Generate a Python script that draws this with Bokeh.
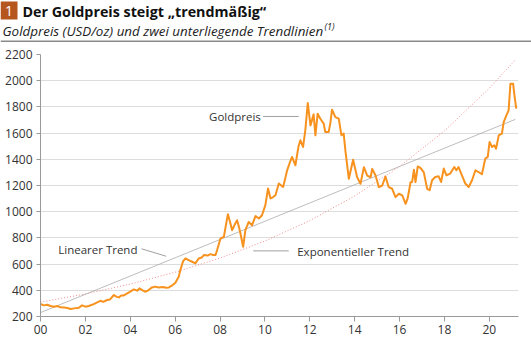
from bokeh.plotting import figure
from bokeh.layouts import column
from bokeh.models import Range1d, FixedTicker, Label, ColumnDataSource
from bokeh.core.properties import value
from bokeh.embed import file_html
from bokeh.resources import INLINE

# ---------------- data (years since 2000, USD/oz) ----------------
gold_year = [0.00, 0.15, 0.30, 0.45, 0.60, 0.75, 0.89, 1.05, 1.20, 1.34, 1.50, 1.71, 1.85, 2.00, 2.15,
             2.37, 2.55, 2.67, 2.80, 2.97, 3.10, 3.27, 3.40, 3.49, 3.60, 3.71, 3.85, 4.00, 4.16, 4.31,
             4.41, 4.55, 4.68, 4.80, 4.97, 5.10, 5.27, 5.45, 5.60, 5.72, 5.85, 6.01, 6.16, 6.24, 6.35,
             6.46, 6.60, 6.76, 6.90, 7.05, 7.18, 7.28, 7.45, 7.57, 7.70, 7.80, 7.87, 8.02, 8.17, 8.35,
             8.45, 8.54, 8.65, 8.76, 8.85, 8.91, 9.03, 9.13, 9.28, 9.43, 9.58, 9.73, 9.87, 10.02, 10.14,
             10.25, 10.35, 10.47, 10.62, 10.81, 10.90, 10.99, 11.10, 11.21, 11.36, 11.43, 11.50, 11.58,
             11.70, 11.80, 11.91, 12.03, 12.17, 12.25, 12.35, 12.47, 12.62, 12.69, 12.84, 12.92, 12.99,
             13.14, 13.29, 13.41, 13.51, 13.59, 13.74, 13.93, 14.11, 14.26, 14.41, 14.56, 14.71, 14.78,
             14.93, 15.08, 15.23, 15.37, 15.52, 15.67, 15.82, 15.97, 16.12, 16.27, 16.36, 16.49, 16.56,
             16.64, 16.71, 16.81, 16.93, 17.08, 17.23, 17.34, 17.45, 17.59, 17.74, 17.85, 17.97, 18.09,
             18.26, 18.44, 18.53, 18.63, 18.78, 18.93, 19.08, 19.23, 19.38, 19.52, 19.67, 19.82, 19.93,
             20.01, 20.12, 20.22, 20.30, 20.42, 20.56, 20.64, 20.76, 20.86, 20.94, 21.06, 21.11, 21.20]
gold_price = [295, 285, 290, 280, 275, 280, 270, 268, 265, 257, 262, 267, 285, 275, 280,
              295, 310, 320, 312, 326, 330, 364, 350, 346, 360, 361, 375, 390, 407, 397,
              415, 400, 389, 400, 422, 428, 422, 425, 420, 422, 435, 458, 503, 560, 620,
              643, 630, 618, 606, 643, 650, 669, 665, 676, 670, 669, 707, 796, 808, 981,
              920, 859, 900, 935, 880, 834, 732, 859, 922, 897, 966, 948, 973, 1050, 1177,
              1101, 1110, 1126, 1215, 1189, 1250, 1316, 1370, 1418, 1354, 1430, 1500, 1545,
              1494, 1621, 1829, 1659, 1743, 1583, 1748, 1710, 1672, 1608, 1608, 1680, 1779,
              1722, 1710, 1583, 1596, 1460, 1251, 1396, 1263, 1213, 1340, 1276, 1263, 1327,
              1276, 1187, 1200, 1269, 1187, 1175, 1111, 1137, 1124, 1060, 1101, 1225, 1227,
              1320, 1225, 1345, 1335, 1300, 1175, 1164, 1240, 1265, 1270, 1227, 1329, 1278,
              1291, 1341, 1316, 1341, 1278, 1215, 1189, 1240, 1316, 1303, 1286, 1405, 1418,
              1532, 1494, 1507, 1481, 1583, 1596, 1684, 1735, 1773, 1977, 1977, 1901, 1787]

linear_year = [0.0, 21.16]
linear_trend = [230, 1705]

exp_year = [0, 2, 4, 6, 8, 10, 12, 14, 16, 18, 20, 21.16]
exp_trend = [310, 372, 447, 538, 646, 776, 932, 1120, 1345, 1617, 1942, 2160]

x_ticks = [0, 2, 4, 6, 8, 10, 12, 14, 16, 18, 20]
x_tick_labels = ["00", "02", "04", "06", "08", "10", "12", "14", "16", "18", "20"]
y_ticks = [200, 400, 600, 800, 1000, 1200, 1400, 1600, 1800, 2000, 2200]

title_text = "Der Goldpreis steigt \u201etrendm\u00e4\u00dfig\u201c"
subtitle_text = "Goldpreis (USD/oz) und zwei unterliegende Trendlinien"

FONT = "Open Sans"
ORANGE = "#f7921e"

W, H = 531, 339
HEAD_H = 44

# ---------------- header figure (pixel coordinates, y downwards) ----------------
h = figure(width=W, height=HEAD_H, output_backend="svg", toolbar_location=None,
           x_range=Range1d(0, W), y_range=Range1d(HEAD_H, 0),
           x_axis_type=None, y_axis_type=None,
           min_border=0, min_border_left=0, min_border_right=0,
           min_border_top=0, min_border_bottom=0)
h.outline_line_color = None
h.grid.visible = False
h.background_fill_color = "white"
h.border_fill_color = "white"

h.quad(left=[0], right=[17], top=[1], bottom=[19], fill_color="#b6561f", line_color=None)
h.text(x=[8.5], y=[10.5], text=["1"], text_font=value(FONT), text_font_size="14px",
       text_color="white", text_align="center", text_baseline="middle")
h.text(x=[22], y=[11], text=[title_text], text_font=value(FONT), text_font_size="14.3px",
       text_font_style="bold", text_color="#111111", text_align="left", text_baseline="middle")
h.text(x=[2], y=[30], text=[subtitle_text], text_font=value(FONT), text_font_size="13.4px",
       text_font_style="italic", text_color="#222222", text_align="left", text_baseline="middle")
h.text(x=[324], y=[25.5], text=["(1)"], text_font=value(FONT), text_font_size="9px",
       text_font_style="italic", text_color="#222222", text_align="left", text_baseline="middle")
h.segment(x0=[0], y0=[40.75], x1=[W], y1=[40.75], line_color="#8a8a8a", line_width=1.5)

# ---------------- chart ----------------
LEFT, RIGHT, TOP, BOTTOM = 40, 13, 10, 23
p = figure(width=W, height=H - HEAD_H, output_backend="svg", toolbar_location=None,
           x_range=Range1d(0, 21.3), y_range=Range1d(200, 2200),
           min_border_left=LEFT, min_border_right=RIGHT,
           min_border_top=TOP, min_border_bottom=BOTTOM)
p.outline_line_color = None
p.background_fill_color = "white"
p.border_fill_color = "white"

for fig in (h, p):
    try:
        fig.frame_align = False
    except AttributeError:
        pass

p.xgrid.visible = False
p.ygrid.grid_line_color = "#dcdcdc"
p.ygrid.grid_line_width = 1
p.ygrid.ticker = FixedTicker(ticks=y_ticks)

p.xaxis.ticker = FixedTicker(ticks=x_ticks)
p.xaxis.major_label_overrides = {t: l for t, l in zip(x_ticks, x_tick_labels)}
p.yaxis.ticker = FixedTicker(ticks=y_ticks)
for ax in (p.xaxis, p.yaxis):
    ax.axis_line_color = "#9a9a9a"
    ax.major_tick_line_color = "#9a9a9a"
    ax.minor_tick_line_color = None
    ax.major_tick_in = 0
    ax.major_label_text_font = FONT
    ax.major_label_text_font_size = "12px"
    ax.major_label_text_color = "#333333"
p.xaxis.major_tick_out = 5
p.yaxis.major_tick_out = 4
p.xaxis.major_label_standoff = 3
p.yaxis.major_label_standoff = 4

# trend lines
p.line(exp_year, exp_trend, line_color="#f08c8c", line_width=1, line_dash="1 2")
p.line(linear_year, linear_trend, line_color="#a0a0a0", line_width=0.7)
# gold price
p.line(gold_year, gold_price, line_color=ORANGE, line_width=2, line_join="round")

# annotation leader lines (data coordinates)
lead = ColumnDataSource(dict(x0=[9.92, 4.5, 9.48], y0=[1727, 717, 701],
                             x1=[11.51, 5.6, 11.06], y1=[1727, 660, 701]))
p.segment("x0", "y0", "x1", "y1", source=lead, line_color="#a0a0a0", line_width=1)

def note(x, y, text):
    p.add_layout(Label(x=x, y=y, text=text, text_font=FONT, text_font_size="11.5px",
                       text_color="#333333", text_baseline="middle", text_align="left"))

note(7.51, 1727, "Goldpreis")
note(0.79, 711, "Linearer Trend")
note(11.44, 698, "Exponentieller Trend")

layout = column(h, p, spacing=0)
open("out.html", "w").write(file_html(layout, INLINE))
